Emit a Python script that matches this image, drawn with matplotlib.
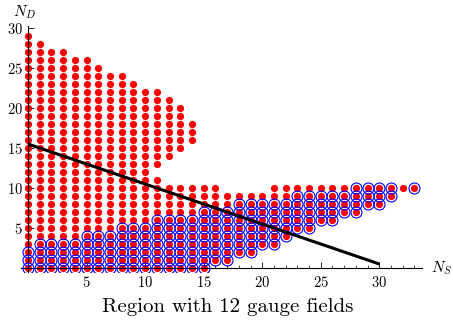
import numpy as np
import matplotlib
matplotlib.use('Agg')
import matplotlib.pyplot as plt
from matplotlib.ticker import MultipleLocator

plt.rcParams['mathtext.fontset'] = 'cm'
plt.rcParams['font.family'] = 'cmr10'
plt.rcParams['axes.formatter.use_mathtext'] = True

# columns N_S, lower block of allowed points goes from LO to HI in N_D
NS = list(range(34))
LO = [0]*16 + [1, 1, 2, 2, 3, 3, 4, 5, 5, 6, 6, 7, 7, 8, 8, 9, 10, 10]
HI = [29, 28, 27, 27, 26, 26, 25, 24, 24, 23, 22, 11,
      10, 10, 10, 10, 10, 9, 9, 9, 9] + [10]*13
# detached upper lobe
UP_NS = [11, 12, 13, 14]
UP_LO = [13, 14, 15, 16]
UP_HI = [22, 21, 20, 18]
# top of the circled (blue) points per column
BLUE_HI = [2, 3, 3, 3, 3, 4, 4, 4, 5, 5, 5, 6, 6, 6, 6, 7, 7, 7,
           8, 8, 8, 8, 8, 9, 9, 9, 9, 9, 10, 10, 10, 10, 10, 10]
BLUE_SKIP = [(32, 10)]
# the black line
LINE_NS = [0, 30]
LINE_ND = [15.5, 0.5]


def main() -> None:
    red_x, red_y, blue_x, blue_y = [], [], [], []
    for ns, lo, hi, bhi in zip(NS, LO, HI, BLUE_HI):
        for nd in range(lo, hi + 1):
            red_x.append(ns)
            red_y.append(nd)
            if nd <= bhi and (ns, nd) not in BLUE_SKIP:
                blue_x.append(ns)
                blue_y.append(nd)
    for ns, lo, hi in zip(UP_NS, UP_LO, UP_HI):
        for nd in range(lo, hi + 1):
            red_x.append(ns)
            red_y.append(nd)

    fig = plt.figure(figsize=(4.53, 3.25), dpi=100)
    ax = fig.add_axes([0.0457, 0.164, 0.8848, 0.7548])
    ax.set_xlim(-0.62, 33.6)
    ax.set_ylim(-0.46, 30.2)

    ax.plot(red_x, red_y, 'o', color='red', ms=5.2, mew=0, zorder=2)
    ax.plot(blue_x, blue_y, 'o', mfc='none', mec='blue', ms=7.9, mew=0.8, zorder=3)
    ax.plot(LINE_NS, LINE_ND, color='black', lw=2.2, zorder=4, solid_capstyle='butt')

    for s in ['top', 'right']:
        ax.spines[s].set_visible(False)
    ax.spines['left'].set_position(('data', 0))
    ax.spines['bottom'].set_position(('data', 0))
    ax.spines['left'].set_linewidth(0.8)
    ax.spines['bottom'].set_linewidth(0.8)

    ax.set_xticks([5, 10, 15, 20, 25, 30])
    ax.set_yticks([5, 10, 15, 20, 25, 30])
    ax.xaxis.set_minor_locator(MultipleLocator(1))
    ax.yaxis.set_minor_locator(MultipleLocator(1))
    ax.tick_params(which='major', direction='in', length=4, width=0.6, labelsize=10.5)
    ax.tick_params(which='minor', direction='in', length=2, width=0.5)
    ax.tick_params(axis='x', pad=5)
    ax.tick_params(axis='y', pad=3.5)

    ax.text(-0.34, 32, r'$N_D$', fontsize=11, ha='center', va='center', clip_on=False)
    ax.text(35.3, 0, r'$N_S$', fontsize=11, ha='center', va='center', clip_on=False)
    fig.text(228/453, 1 - 307/325, 'Region with 12 gauge fields',
             fontsize=15, ha='center', va='center')

    plt.savefig('out.png', dpi=100)


if __name__ == "__main__":
    main()
